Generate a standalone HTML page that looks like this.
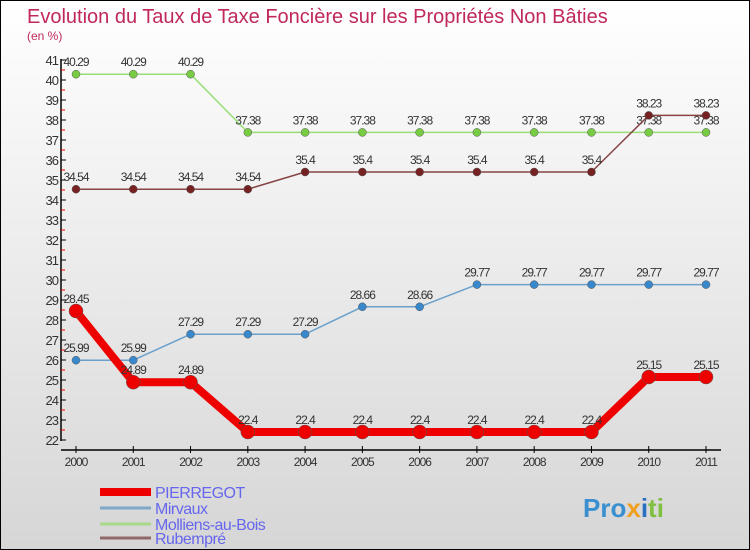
<!DOCTYPE html>
<html><head><meta charset="utf-8"><style>
body{margin:0}
svg{display:block;font-family:"Liberation Sans",sans-serif}
</style></head><body>
<svg id="c" width="750" height="550" xmlns="http://www.w3.org/2000/svg">
<defs><linearGradient id="bg" x1="0" y1="0" x2="0" y2="1"><stop offset="0" stop-color="#ffffff"/><stop offset="1" stop-color="#d6d6d6"/></linearGradient></defs>
<rect x="0.5" y="0.5" width="749" height="549" fill="url(#bg)" stroke="#000"/>
<text x="27" y="23" font-size="20" fill="#c0285a">Evolution du Taux de Taxe Foncière sur les Propriétés Non Bâties</text>
<text x="27" y="40" font-size="12" fill="#c0285a">(en %)</text>
<g id="axes"></g>
<g id="series"></g>
<g id="legend"></g>
<text x="583" y="517" font-size="26" font-weight="bold" fill="#3a8fd0">Pro<tspan fill="#f0a020">x</tspan><tspan fill="#2a70c0">i</tspan><tspan fill="#80c040">ti</tspan></text>
</svg>
<script>
const years=[2000,2001,2002,2003,2004,2005,2006,2007,2008,2009,2010,2011];
const names=["PIERREGOT","Mirvaux","Molliens-au-Bois","Rubempré"];
const pierregot=[28.45,24.89,24.89,22.4,22.4,22.4,22.4,22.4,22.4,22.4,25.15,25.15];
const mirvaux=[25.99,25.99,27.29,27.29,27.29,28.66,28.66,29.77,29.77,29.77,29.77,29.77];
const molliens=[40.29,40.29,40.29,37.38,37.38,37.38,37.38,37.38,37.38,37.38,37.38,37.38];
const rubempre=[34.54,34.54,34.54,34.54,35.4,35.4,35.4,35.4,35.4,35.4,38.23,38.23];
const yTicks=[22,23,24,25,26,27,28,29,30,31,32,33,34,35,36,37,38,39,40,41];
const NS="http://www.w3.org/2000/svg";
const X=i=>76+i*(630/11);
const Y=v=>440-(v-22)*20;
function mk(p,t,a){const e=document.createElementNS(NS,t);for(const k in a)e.setAttribute(k,a[k]);p.appendChild(e);return e;}
const ax=document.getElementById('axes');
let l=mk(ax,'line',{x1:61,y1:59,x2:61,y2:441,stroke:'#000','stroke-width':1.5});


l=mk(ax,'line',{x1:61,y1:450,x2:721,y2:450,stroke:'#000','stroke-width':1.5});


yTicks.forEach(v=>{
 mk(ax,'line',{x1:61,y1:Y(v),x2:66,y2:Y(v),stroke:'#000'});
 if(v<41)mk(ax,'line',{x1:61,y1:Y(v+0.5),x2:65,y2:Y(v+0.5),stroke:'#e00'});
 const t=mk(ax,'text',{x:58,y:Y(v)+5,'font-size':13,'text-anchor':'end',fill:'#333','letter-spacing':'-1'});
 t.textContent=v;
 
 
});
years.forEach((yr,i)=>{
 mk(ax,'line',{x1:X(i),y1:446,x2:X(i),y2:453,stroke:'#000'});
 const t=mk(ax,'text',{x:X(i),y:466,'font-size':12,'text-anchor':'middle',fill:'#333','letter-spacing':'-1'});
 t.textContent=yr;
 
 
});
const sg=document.getElementById('series');
const cfg=[[molliens,'#99dd77','#77cc44',1.5,4,'molliens'],[rubempre,'#884444','#772222',1.5,4,'rubempre'],[mirvaux,'#6aa0cc','#3a88cc',1.5,4,'mirvaux'],[pierregot,'#ee0000','#ee0000',8,7,'pierregot']];
cfg.forEach(([d,c,pc,w,r,n])=>{
 const p=mk(sg,'polyline',{points:d.map((v,i)=>X(i)+','+Y(v)).join(' '),fill:'none',stroke:c,'stroke-width':w,'stroke-linejoin':'round'});
 
 
 d.forEach((v,i)=>{
  const ci=mk(sg,'circle',{cx:X(i),cy:Y(v),r:r,fill:pc,stroke:'#555','stroke-width':0.5});
  
  
  const t=mk(sg,'text',{x:X(i),y:Y(v)-8,'font-size':12,'text-anchor':'middle',fill:'#333','letter-spacing':'-1'});
  t.textContent=v;
  
  
 });
});
const lg=document.getElementById('legend');
const lc=[['#ee0000',8],['#80a8c8',3],['#a8d888',3],['#906868',3]];
names.forEach((nm,i)=>{
 const y=[492,508,524,538][i];
 const ll=mk(lg,'line',{x1:100,y1:y,x2:151,y2:y,stroke:lc[i][0],'stroke-width':lc[i][1]});
 
 
 const t=mk(lg,'text',{x:155,y:y+6,'font-size':16,fill:'#6666ee','letter-spacing':'-0.5'});
 t.textContent=nm;
 
 
});
</script>
</body></html>
